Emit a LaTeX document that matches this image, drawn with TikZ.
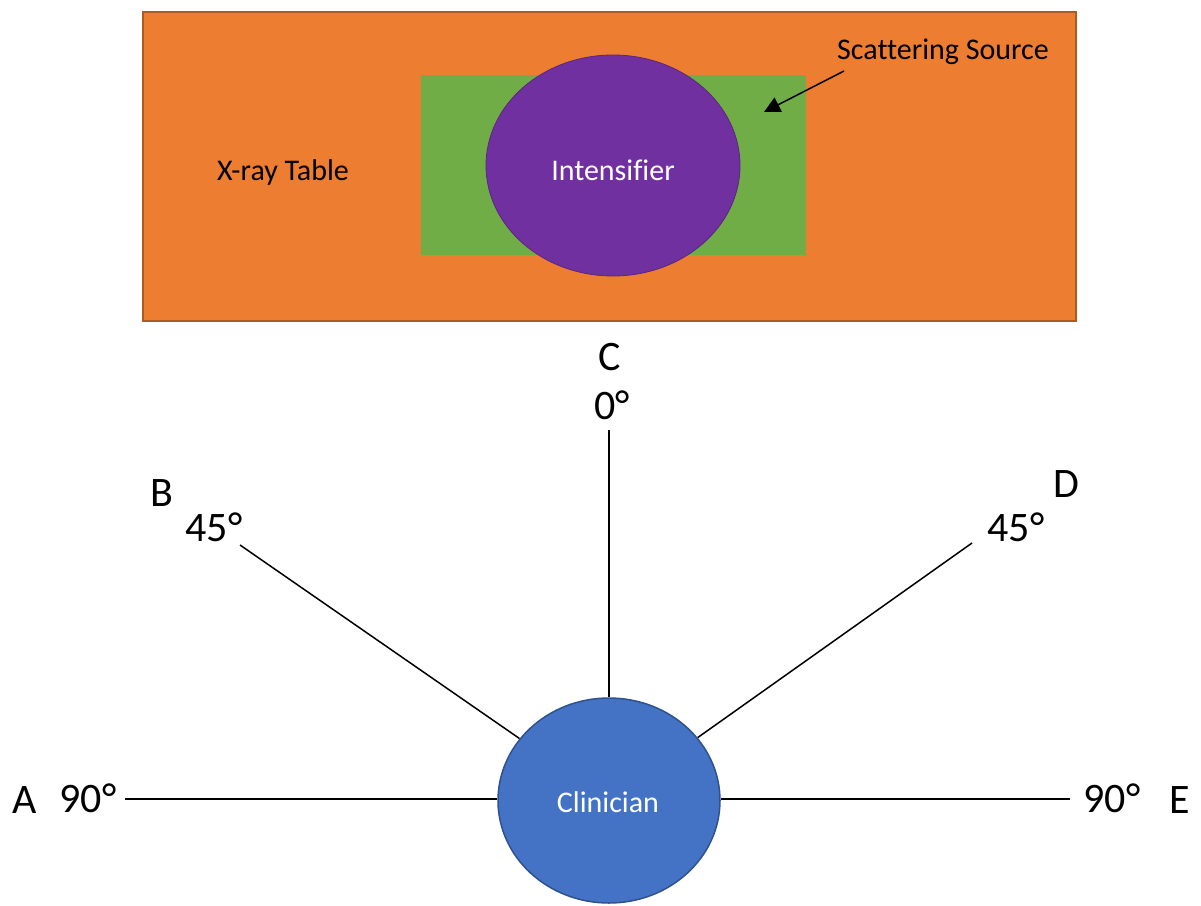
\documentclass[tikz,border=0pt]{standalone}
\usepackage{fontspec}
\setmainfont{Carlito}[Ligatures=NoCommon]
\usetikzlibrary{arrows.meta,shapes.geometric,backgrounds}
\definecolor{tableor}{HTML}{ED7D31}
\definecolor{tableedge}{HTML}{AE5A21}
\definecolor{srcgreen}{HTML}{70AD47}
\definecolor{intpurple}{HTML}{7030A0}
\definecolor{clinblue}{HTML}{4472C4}
\definecolor{clinedge}{HTML}{2F528F}
\tikzset{
  small/.style={font=\fontsize{30}{36}\selectfont, inner sep=0pt},
  big/.style={font=\fontsize{42}{50}\selectfont, inner sep=0pt},
  ray/.style={draw=black, line width=1.5pt},
}
\begin{document}
\begin{tikzpicture}[x=1pt,y=-1pt]
\useasboundingbox (0,0) rectangle (1201,905);
% table
\node[draw=tableedge, fill=tableor, line width=2.5pt, minimum width=933pt, minimum height=309pt, inner sep=0pt] (table) at (609.5,166.5) {};
\node[fill=srcgreen, minimum width=385pt, minimum height=180pt, inner sep=0pt] (source) at (613.5,165) {};
\node[ellipse, fill=intpurple, draw=intpurple!80!black, line width=0.8pt, minimum width=254pt, minimum height=221pt, inner sep=0pt] (intens) at (613,165.5) {};
\node[small, text=white] (intlabel) at (613,170) {Intensifier};
\node[small] (tablelabel) at (283,172) {X-ray Table};
\node[small] (scatlabel) at (943,52) {Scattering Source};
\coordinate (arrstart) at (844,71);
\coordinate (arrend) at (764,112);
\draw[line width=1.5pt, -{Triangle[length=16pt,width=16pt]}] (arrstart) -- (arrend);
% clinician
\node[ellipse, fill=clinblue, draw=clinedge, line width=1.5pt, minimum width=222pt, minimum height=205pt, inner sep=0pt] (clin) at (609,800.5) {};
\node[small, text=white] (clinlabel) at (608,802) {Clinician};
% ray ends
\coordinate (pA) at (125,799);
\coordinate (pB) at (240,545);
\coordinate (pC) at (609,430);
\coordinate (pD) at (972,543);
\coordinate (pE) at (1070,799);
\begin{scope}[on background layer]
\draw[ray] (pA) -- (pA -| clin.west);
\draw[ray] (pE) -- (pE -| clin.east);
\draw[ray] (pC) -- (clin.north);
\draw[ray] (pB) -- (clin);
\draw[ray] (pD) -- (clin);
\end{scope}
% labels
\node[big] (labA) at (25,800) {A};
\node[big] (degA) at (88,798) {90°};
\node[big] (labE) at (1180,800) {E};
\node[big] (degE) at (1112,798) {90°};
\node[big] (labC) at (610,357) {C};
\node[big] (degC) at (612,405) {0°};
\node[big] (labB) at (162,493) {B};
\node[big] (degB) at (214,527) {45°};
\node[big] (labD) at (1066,484) {D};
\node[big] (degD) at (1016,527) {45°};
\end{tikzpicture}
\end{document}
